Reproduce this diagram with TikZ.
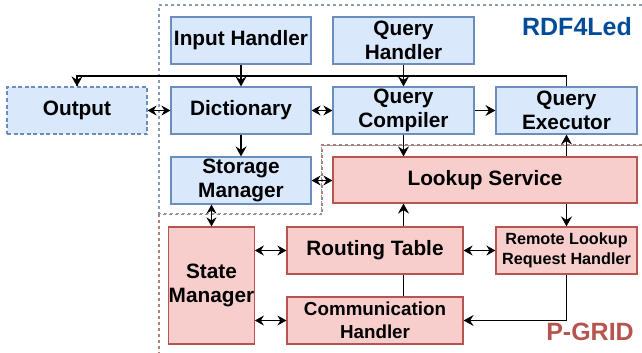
\documentclass[tikz,border=0pt]{standalone}
\usepackage{fontspec}
\setmainfont{Liberation Sans}
\usetikzlibrary{arrows.meta}
\definecolor{bfill}{HTML}{DAE8FC}
\definecolor{bdraw}{HTML}{6C8EBF}
\definecolor{rfill}{HTML}{F8CECC}
\definecolor{rdraw}{HTML}{B85450}
\definecolor{rdftext}{HTML}{004C99}
\definecolor{dashblue}{HTML}{8A9BB5}
\definecolor{dashred}{HTML}{B08078}
\tikzset{
  box/.style={line width=1.2pt, inner sep=0pt, align=center,
    font=\bfseries\fontsize{20.8}{24}\selectfont},
  bluebox/.style={box, draw=bdraw, fill=bfill},
  redbox/.style={box, draw=rdraw, fill=rfill},
  arr/.style={line width=1.1pt, -{Stealth[length=10pt,width=11pt,inset=3.5pt]}},
  darr/.style={line width=1.1pt, {Stealth[length=9pt,width=10pt,inset=3pt]}-{Stealth[length=9pt,width=10pt,inset=3pt]}},
  plain/.style={line width=1.1pt},
  region/.style={line width=1.1pt, dash pattern=on 3pt off 3pt},
}
\begin{document}
\begin{tikzpicture}[x=1pt,y=-1pt]
\useasboundingbox (0,0) rectangle (642,353);
% regions
\draw[region, draw=dashred] (642,145) -- (322,145) -- (322,214.5) -- (159,214.5) -- (159,353);
\draw[region, draw=dashblue] (642,5) -- (159,5) -- (159,213.5) -- (321.5,213.5) -- (321.5,145.5) -- (642,145.5);
% nodes
\node[bluebox, minimum width=140, minimum height=47] (inp) at (241,40.5) {Input Handler};
\node[bluebox, minimum width=141, minimum height=47] (qh) at (403.5,40.5) {Query\\Handler};
\node[bluebox, minimum width=140, minimum height=47, dash pattern=on 4pt off 2.5pt] (out) at (77,110.5) {Output};
\node[bluebox, minimum width=140, minimum height=47] (dict) at (241,110.5) {Dictionary};
\node[bluebox, minimum width=141, minimum height=47] (qc) at (403.5,110.5) {Query\\Compiler};
\node[bluebox, minimum width=141, minimum height=47] (qe) at (566.5,110.5) {Query\\Executor};
\node[bluebox, minimum width=140, minimum height=47] (sm) at (241,180.5) {Storage\\Manager};
\node[redbox, minimum width=304, minimum height=46] (ls) at (485,180) {Lookup Service};
\node[redbox, minimum width=81, minimum height=117] (stm) at (211.5,285.5) {State\\Manager};
\node[redbox, minimum width=176, minimum height=47] (rt) at (375,250.5) {Routing Table};
\node[redbox, minimum width=141, minimum height=47, font=\bfseries\fontsize{16.2}{20}\selectfont] (rl) at (566.5,250.5) {Remote Lookup\\Request Handler};
\node[redbox, minimum width=176, minimum height=47, font=\bfseries\fontsize{18.8}{23}\selectfont] (ch) at (375,320.5) {Communication\\Handler};
\node[font=\bfseries\fontsize{25}{30}\selectfont, text=rdftext, inner sep=0pt] (rdf) at (577,27) {RDF4Led};
\node[font=\bfseries\fontsize{25}{30}\selectfont, text=rdraw, inner sep=0pt] (pg) at (590,332) {P-GRID};
% connectors
\coordinate (ly) at (0,76);
\draw[plain] (qe.north) -- (qe.north |- ly) -| (out.north);
\draw[arr] (out.north |- ly) -- (out.north);
\draw[arr] (inp) -- (dict);
\draw[arr] (qh) -- (qc);
\draw[darr] (out) -- (dict);
\draw[darr] (dict) -- (qc);
\draw[arr] (qc) -- (qe);
\draw[arr] (dict) -- (sm);
\draw[arr] (qc.south) -- (qc.south |- ls.north);
\draw[arr] (ls.north -| qe.south) -- (qe.south);
\draw[darr] (sm.east) -- (sm.east -| ls.west);
\draw[darr] (stm.north) -- (stm.north |- sm.south);
\draw[darr] (stm.east |- rt.west) -- (rt.west);
\draw[darr] (stm.east |- ch.west) -- (ch.west);
\draw[arr] (rt.north -| qc.south) -- (ls.south -| qc.south);
\draw[arr] (ls.south -| rl.north) -- (rl.north);
\draw[darr] (rt) -- (rl);
\draw[plain] (rt.south -| qc.south) -- (ch.north -| qc.south);
\draw[arr] (rl.south) |- (ch.east);
\end{tikzpicture}
\end{document}
